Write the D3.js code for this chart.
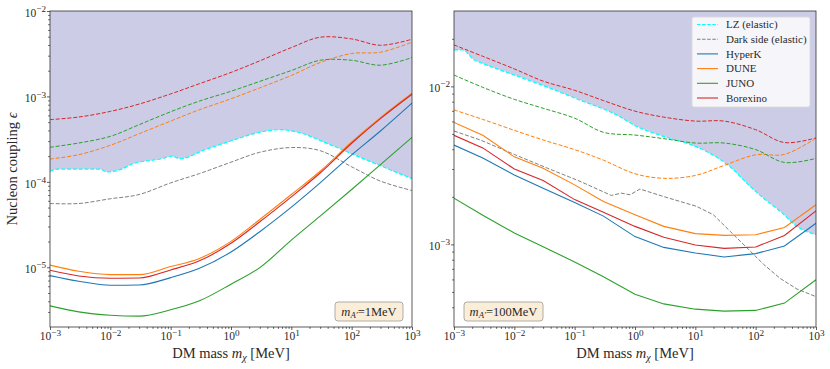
<!DOCTYPE html>
<html>
<head>
<meta charset="utf-8">
<script src="https://cdn.jsdelivr.net/npm/d3@7"></script>
<style>
body { margin: 0; background: #fff; }
text { font-family: "Liberation Serif", "DejaVu Serif", serif; fill: #2a2a2a; }
</style>
</head>
<body>
<div id="chart"></div>
<script>

// ---- data ----
const mass_grid = [1e-3, 3e-3, 1e-2, 3e-2, 1e-1, 3e-1, 1, 3, 10, 30, 100, 300, 1000];

// left panel: m_A' = 1 MeV
const left_hyperk   = [8.00e-6, 6.87e-6, 6.16e-6, 6.21e-6, 7.57e-6, 9.73e-6, 1.51e-5, 2.61e-5, 5.06e-5, 9.73e-5, 2.07e-4, 3.94e-4, 8.36e-4];
const left_dune     = [1.06e-5, 8.98e-6, 8.21e-6, 8.21e-6, 1.02e-5, 1.27e-5, 2.01e-5, 3.63e-5, 7.11e-5, 1.33e-4, 2.93e-4, 5.64e-4, 1.09e-3];
const left_juno     = [3.54e-6, 3.01e-6, 2.75e-6, 2.68e-6, 3.18e-6, 4.05e-6, 6.34e-6, 9.91e-6, 2.08e-5, 3.97e-5, 8.14e-5, 1.59e-4, 3.32e-4];
const left_borexino = [9.23e-6, 7.92e-6, 7.44e-6, 7.48e-6, 9.31e-6, 1.19e-5, 1.91e-5, 3.41e-5, 6.68e-5, 1.27e-4, 2.83e-4, 5.49e-4, 1.06e-3];

const left_dune_el     = [1.85e-4, 2.08e-4, 2.68e-4, 3.66e-4, 5.15e-4, 6.99e-4, 9.39e-4, 1.26e-3, 1.76e-3, 2.49e-3, 3.18e-3, 3.29e-3, 4.31e-3];
const left_juno_el     = [2.54e-4, 2.85e-4, 3.41e-4, 4.67e-4, 6.62e-4, 8.82e-4, 1.15e-3, 1.50e-3, 2.01e-3, 2.65e-3, 2.65e-3, 2.32e-3, 2.85e-3];
const left_borexino_el = [5.35e-4, 5.74e-4, 6.68e-4, 8.14e-4, 1.07e-3, 1.41e-3, 1.91e-3, 2.61e-3, 3.73e-3, 4.93e-3, 4.71e-3, 3.97e-3, 4.67e-3];
const left_darkside    = [5.58e-5, 5.58e-5, 6.34e-5, 7.11e-5, 9.73e-5, 1.25e-4, 1.70e-4, 2.22e-4, 2.52e-4, 2.32e-4, 1.50e-4, 1.02e-4, 7.92e-5];

const left_lz_mass = [1e-3, 1.37e-3, 6.75e-3, 8.69e-3, 1.54e-2, 2.26e-2, 7.10e-2, 0.104, 0.143, 0.371, 1.16, 2.66, 6.48, 12.3, 43.7, 156, 1000];
const left_lz      = [1.33e-4, 1.41e-4, 1.41e-4, 1.31e-4, 1.41e-4, 1.61e-4, 1.87e-4, 2.00e-4, 1.87e-4, 2.38e-4, 3.12e-4, 3.73e-4, 4.08e-4, 3.84e-4, 2.73e-4, 1.87e-4, 1.09e-4];

// right panel: m_A' = 100 MeV
const right_hyperk   = [4.25e-3, 3.52e-3, 2.75e-3, 2.27e-3, 1.84e-3, 1.51e-3, 1.12e-3, 9.57e-4, 8.83e-4, 8.33e-4, 8.74e-4, 9.77e-4, 1.36e-3];
const right_dune     = [5.91e-3, 4.90e-3, 3.58e-3, 3.03e-3, 2.38e-3, 1.87e-3, 1.54e-3, 1.30e-3, 1.17e-3, 1.14e-3, 1.15e-3, 1.28e-3, 1.78e-3];
const right_juno     = [1.96e-3, 1.53e-3, 1.18e-3, 9.66e-4, 7.74e-4, 6.24e-4, 4.83e-4, 4.20e-4, 3.89e-4, 3.78e-4, 3.82e-4, 4.25e-4, 5.97e-4];
const right_borexino = [4.90e-3, 4.08e-3, 3.00e-3, 2.54e-3, 1.92e-3, 1.60e-3, 1.30e-3, 1.11e-3, 9.91e-4, 9.44e-4, 9.62e-4, 1.14e-3, 1.63e-3];

const right_dune_el     = [7.10e-3, 6.18e-3, 5.27e-3, 4.58e-3, 3.98e-3, 3.41e-3, 2.80e-3, 2.62e-3, 2.73e-3, 3.16e-3, 3.69e-3, 3.71e-3, 4.70e-3];
const right_juno_el     = [1.18e-2, 9.86e-3, 8.28e-3, 7.27e-3, 6.29e-3, 5.12e-3, 4.92e-3, 4.67e-3, 4.38e-3, 4.38e-3, 3.98e-3, 3.30e-3, 3.50e-3];
const right_borexino_el = [1.83e-2, 1.55e-2, 1.29e-2, 1.08e-2, 9.44e-3, 8.13e-3, 6.97e-3, 6.39e-3, 6.03e-3, 6.03e-3, 5.32e-3, 4.41e-3, 4.72e-3];

const right_lz_mass = [1e-3, 1.39e-3, 2.18e-3, 2.81e-3, 1e-2, 3.59e-2, 0.128, 0.459, 1.12, 2.95, 10.5, 19.9, 37.7, 71.3, 135, 255, 483, 1000];
const right_lz      = [1.70e-2, 1.70e-2, 1.47e-2, 1.41e-2, 1.18e-2, 9.86e-3, 8.13e-3, 6.70e-3, 5.53e-3, 4.83e-3, 4.14e-3, 3.67e-3, 3.10e-3, 2.44e-3, 1.96e-3, 1.62e-3, 1.30e-3, 1.15e-3];

const right_ds_mass = [1e-3, 2.81e-3, 1e-2, 3.59e-2, 0.128, 0.405, 0.593, 0.825, 1.21, 2.95, 10.5, 19.9, 37.7, 71.3, 135, 255, 483, 1000];
const right_darkside = [5.22e-3, 4.56e-3, 3.71e-3, 3.03e-3, 2.49e-3, 2.04e-3, 2.11e-3, 2.06e-3, 2.24e-3, 2.01e-3, 1.74e-3, 1.54e-3, 1.21e-3, 9.53e-4, 7.48e-4, 6.09e-4, 5.22e-4, 4.67e-4];

const legend_names = ['LZ (elastic)', 'Dark side (elastic)', 'HyperK', 'DUNE', 'JUNO', 'Borexino'];
const x_major = [1e-3, 1e-2, 1e-1, 1, 10, 100, 1000];

// ---- layout ----
const width = 830, height = 369;
const top_y = 11, bottom_y = 327;

const c_blue = '#1f77b4', c_orange = '#ff7f0e', c_green = '#2ca02c', c_red = '#d62728', c_gray = '#7f7f7f', c_cyan = '#00ffff';
const dash = '4,1.8';

const svg = d3.select('#chart').append('svg')
    .attr('width', width)
    .attr('height', height);

const panels = [
    {
        x0: 50, x1: 412, ydom: [2e-6, 1e-2], ymajor: [1e-5, 1e-4, 1e-3, 1e-2], yexp: [-6, -3],
        label: '1MeV', box: [335, 302, 68, 19], smooth: true,
        lz_m: left_lz_mass, lz: left_lz,
        series: [
            {m: mass_grid, v: left_darkside, color: c_gray, dashed: true},
            {m: mass_grid, v: left_dune_el, color: c_orange, dashed: true},
            {m: mass_grid, v: left_juno_el, color: c_green, dashed: true},
            {m: mass_grid, v: left_borexino_el, color: c_red, dashed: true},
            {m: mass_grid, v: left_hyperk, color: c_blue},
            {m: mass_grid, v: left_dune, color: c_orange},
            {m: mass_grid, v: left_juno, color: c_green},
            {m: mass_grid, v: left_borexino, color: c_red}
        ]
    },
    {
        x0: 454, x1: 816, ydom: [3e-4, 3e-2], ymajor: [1e-3, 1e-2], yexp: [-4, -2],
        label: '100MeV', box: [464, 302, 79, 19], smooth: false,
        lz_m: right_lz_mass, lz: right_lz,
        series: [
            {m: right_ds_mass, v: right_darkside, color: c_gray, dashed: true, linear: true},
            {m: mass_grid, v: right_dune_el, color: c_orange, dashed: true},
            {m: mass_grid, v: right_juno_el, color: c_green, dashed: true},
            {m: mass_grid, v: right_borexino_el, color: c_red, dashed: true},
            {m: mass_grid, v: right_hyperk, color: c_blue},
            {m: mass_grid, v: right_dune, color: c_orange},
            {m: mass_grid, v: right_juno, color: c_green},
            {m: mass_grid, v: right_borexino, color: c_red}
        ]
    }
];

// writes 10^e with a raised exponent
function pow_label(sel) {
    sel.each(function(d) {
        const e = Math.round(Math.log10(d));
        const t = d3.select(this);
        t.text('');
        t.append('tspan').text('10');
        t.append('tspan').attr('dy', '-0.5em').attr('font-size', '0.8em').text(e < 0 ? '\u2212' + (-e) : e);
    });
}

function minor_ticks(e0, e1, lo, hi) {
    const out = [];
    for (let e = e0; e <= e1; e++) {
        for (let k = 2; k <= 9; k++) {
            const v = k * Math.pow(10, e);
            if (v > lo * 1.01 && v < hi * 0.99) out.push(v);
        }
    }
    return out;
}

panels.forEach((p, i) => {
    const x = d3.scaleLog().domain([1e-3, 1e3]).range([p.x0, p.x1]);
    const y = d3.scaleLog().domain(p.ydom).range([bottom_y, top_y]);

    svg.append('clipPath').attr('id', 'clip' + i)
        .append('rect')
        .attr('x', p.x0).attr('y', top_y)
        .attr('width', p.x1 - p.x0).attr('height', bottom_y - top_y);

    const plot = svg.append('g').attr('clip-path', `url(#clip${i})`);

    // excluded region above LZ
    const lz_pts = p.lz_m.map((m, j) => [m, p.lz[j]]);
    plot.append('path')
        .datum(lz_pts)
        .attr('d', d3.area().x(d => x(d[0])).y0(top_y).y1(d => y(d[1])).curve(d3.curveMonotoneX))
        .attr('fill', '#ccccE6');

    plot.append('path')
        .datum(lz_pts)
        .attr('d', d3.line().x(d => x(d[0])).y(d => y(d[1])).curve(d3.curveMonotoneX))
        .attr('fill', 'none')
        .attr('stroke', c_cyan)
        .attr('stroke-width', 1.2)
        .attr('stroke-dasharray', dash);

    p.series.forEach(s => {
        const pts = s.m.map((m, j) => [m, s.v[j]]);
        let curve = d3.curveLinear;
        if (s.dashed && !s.linear) curve = d3.curveCatmullRom.alpha(0.5);
        if (!s.dashed && p.smooth) curve = d3.curveMonotoneX;
        plot.append('path')
            .datum(pts)
            .attr('d', d3.line().x(d => x(d[0])).y(d => y(d[1])).curve(curve))
            .attr('fill', 'none')
            .attr('stroke', s.color)
            .attr('stroke-width', s.dashed ? 1 : 1.1)
            .attr('stroke-dasharray', s.dashed ? dash : null);
    });

    // axes
    const xg = svg.append('g').attr('transform', `translate(0,${bottom_y})`);
    xg.append('g')
        .call(d3.axisBottom(x).tickValues(minor_ticks(-3, 2, 1e-3, 1e3)).tickSize(1.8).tickFormat(''))
        .call(a => a.select('.domain').remove());
    xg.append('g')
        .call(d3.axisBottom(x).tickValues(x_major).tickSize(3).tickPadding(2))
        .call(a => a.select('.domain').remove())
        .selectAll('text')
        .attr('font-size', 11.5)
        .call(pow_label);

    const yg = svg.append('g').attr('transform', `translate(${p.x0},0)`);
    yg.append('g')
        .call(d3.axisLeft(y).tickValues(minor_ticks(p.yexp[0], p.yexp[1], p.ydom[0], p.ydom[1])).tickSize(1.8).tickFormat(''))
        .call(a => a.select('.domain').remove());
    yg.append('g')
        .call(d3.axisLeft(y).tickValues(p.ymajor).tickSize(3).tickPadding(1))
        .call(a => a.select('.domain').remove())
        .selectAll('text')
        .attr('font-size', 11.5)
        .attr('dy', '0.45em')
        .call(pow_label);

    svg.selectAll('.tick line').attr('stroke', '#333').attr('stroke-width', 0.8);
    svg.selectAll('.tick text').attr('fill', '#444');

    // frame
    svg.append('rect')
        .attr('x', p.x0).attr('y', top_y)
        .attr('width', p.x1 - p.x0).attr('height', bottom_y - top_y)
        .attr('fill', 'none')
        .attr('stroke', '#333')
        .attr('stroke-width', 0.8);

    // x label
    const xl = svg.append('text')
        .attr('x', (p.x0 + p.x1) / 2)
        .attr('y', 358)
        .attr('text-anchor', 'middle')
        .attr('font-size', 14.5);
    xl.append('tspan').text('DM mass ');
    xl.append('tspan').attr('font-style', 'italic').text('m');
    xl.append('tspan').attr('font-style', 'italic').attr('font-size', '0.7em').attr('dy', '0.3em').text('\u03c7');
    xl.append('tspan').attr('dy', '-0.2em').text(' [MeV]');

    // m_A' box
    const b = p.box;
    svg.append('rect')
        .attr('x', b[0]).attr('y', b[1])
        .attr('width', b[2]).attr('height', b[3])
        .attr('rx', 3)
        .attr('fill', '#faeed9')
        .attr('stroke', '#999')
        .attr('stroke-width', 0.8);
    const bt = svg.append('text')
        .attr('x', b[0] + b[2] / 2)
        .attr('y', b[1] + b[3] / 2 + 4)
        .attr('text-anchor', 'middle')
        .attr('font-size', 12.5);
    bt.append('tspan').attr('font-style', 'italic').text('m');
    bt.append('tspan').attr('font-style', 'italic').attr('font-size', '0.7em').attr('dy', '0.3em').text('A\u2032');
    bt.append('tspan').attr('dy', '-0.21em').text('=' + p.label);
});

// y label
svg.append('g')
    .attr('transform', `translate(17, ${(top_y + bottom_y) / 2}) rotate(-90)`)
    .append('text')
    .attr('text-anchor', 'middle')
    .attr('font-size', 14.5)
    .call(t => {
        t.append('tspan').text('Nucleon coupling ');
        t.append('tspan').attr('font-style', 'italic').text('\u03f5');
    });

// legend (right panel)
const leg = svg.append('g');
leg.append('rect')
    .attr('x', 692).attr('y', 17)
    .attr('width', 118).attr('height', 90)
    .attr('rx', 2)
    .attr('fill', '#f6f6fa')
    .attr('stroke', '#d8d8d8')
    .attr('stroke-width', 0.8);

const leg_colors = [c_cyan, c_gray, c_blue, c_orange, c_green, c_red];
const leg_rows = d3.scaleLinear().domain([0, 5]).range([24.5, 98]);
legend_names.forEach((name, i) => {
    leg.append('line')
        .attr('x1', 697).attr('x2', 718)
        .attr('y1', leg_rows(i)).attr('y2', leg_rows(i))
        .attr('stroke', leg_colors[i])
        .attr('stroke-width', 1.1)
        .attr('stroke-dasharray', i < 2 ? '3.5,1.6' : null);
    leg.append('text')
        .attr('x', 726).attr('y', leg_rows(i))
        .attr('dy', '0.35em')
        .attr('font-size', 11)
        .text(name);
});

</script>
</body>
</html>
